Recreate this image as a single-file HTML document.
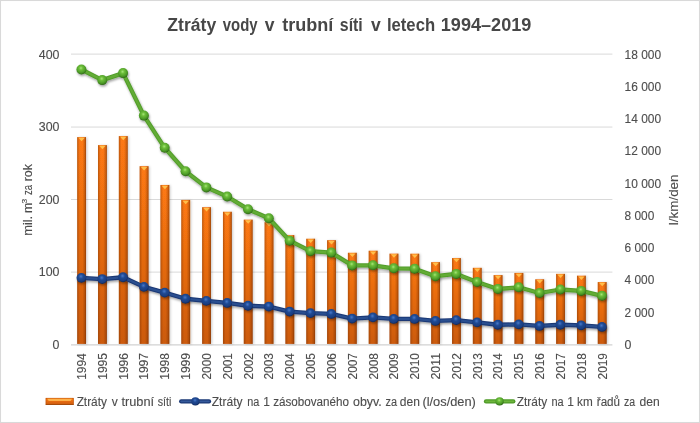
<!DOCTYPE html>
<html lang="cs"><head><meta charset="utf-8"><title>Ztráty vody v trubní síti v letech 1994–2019</title>
<style>
html,body{margin:0;padding:0;background:#fff;}
svg{display:block;font-family:"Liberation Sans",sans-serif;}
.ax{font-size:12px;fill:#4d4d4d;stroke:#4d4d4d;stroke-width:.12px;}
.ttl{font-size:17.5px;font-weight:bold;fill:#474747;}
</style></head><body>
<svg width="700" height="423" viewBox="0 0 700 423">
<defs>
<linearGradient id="gb" x1="0" y1="0" x2="0" y2="1"><stop offset="0" stop-color="#FD7912"/><stop offset="1" stop-color="#CB5A0F"/></linearGradient>
<linearGradient id="ge" x1="0" y1="0" x2="1" y2="0"><stop offset="0" stop-color="#6a2800" stop-opacity=".5"/><stop offset=".1" stop-color="#6a2800" stop-opacity=".25"/><stop offset=".3" stop-color="#6a2800" stop-opacity="0"/><stop offset=".6" stop-color="#6a2800" stop-opacity="0"/><stop offset=".86" stop-color="#6a2800" stop-opacity=".3"/><stop offset="1" stop-color="#5a2000" stop-opacity=".62"/></linearGradient>
<radialGradient id="mg" cx=".45" cy=".36" r=".62"><stop offset="0" stop-color="#A5E578"/><stop offset=".3" stop-color="#6DBE3A"/><stop offset=".7" stop-color="#4F9E29"/><stop offset=".88" stop-color="#3F8420"/><stop offset="1" stop-color="#2E6414"/></radialGradient>
<radialGradient id="mb" cx=".45" cy=".36" r=".62"><stop offset="0" stop-color="#4678CA"/><stop offset=".38" stop-color="#204A93"/><stop offset=".8" stop-color="#1A3D80"/><stop offset="1" stop-color="#102858"/></radialGradient>
<filter id="sh" x="-5%" y="-5%" width="110%" height="115%"><feDropShadow dx="0.8" dy="1.6" stdDeviation="1.2" flood-color="#000" flood-opacity=".38"/></filter>
<filter id="sb" x="-2%" y="-2%" width="104%" height="104%"><feDropShadow dx="1.2" dy="0.3" stdDeviation="0.8" flood-color="#000" flood-opacity=".2"/></filter>
</defs>
<rect x="0" y="0" width="700" height="423" fill="#fff"/>
<rect x="0.5" y="0.5" width="699" height="422" fill="none" stroke="#D9D9D9" stroke-width="1.1"/>

<line x1="71.0" x2="612.4" y1="272.10" y2="272.10" stroke="#D9D9D9" stroke-width="1"/>
<line x1="71.0" x2="612.4" y1="199.50" y2="199.50" stroke="#D9D9D9" stroke-width="1"/>
<line x1="71.0" x2="612.4" y1="127.05" y2="127.05" stroke="#D9D9D9" stroke-width="1"/>
<line x1="71.0" x2="612.4" y1="54.10" y2="54.10" stroke="#D9D9D9" stroke-width="1"/>
<line x1="71.0" x2="612.4" y1="344.9" y2="344.9" stroke="#D2D2D2" stroke-width="1.1"/>
<g filter="url(#sb)">
<rect x="77.21" y="137.12" width="8.8" height="206.78" fill="url(#gb)"/>
<rect x="98.03" y="145.12" width="8.8" height="198.78" fill="url(#gb)"/>
<rect x="118.86" y="136.11" width="8.8" height="207.79" fill="url(#gb)"/>
<rect x="139.68" y="166.20" width="8.8" height="177.70" fill="url(#gb)"/>
<rect x="160.50" y="184.96" width="8.8" height="158.94" fill="url(#gb)"/>
<rect x="181.33" y="199.94" width="8.8" height="143.96" fill="url(#gb)"/>
<rect x="202.15" y="207.21" width="8.8" height="136.69" fill="url(#gb)"/>
<rect x="222.97" y="211.79" width="8.8" height="132.11" fill="url(#gb)"/>
<rect x="243.80" y="219.64" width="8.8" height="124.26" fill="url(#gb)"/>
<rect x="264.62" y="222.26" width="8.8" height="121.64" fill="url(#gb)"/>
<rect x="285.44" y="235.12" width="8.8" height="108.78" fill="url(#gb)"/>
<rect x="306.27" y="238.76" width="8.8" height="105.14" fill="url(#gb)"/>
<rect x="327.09" y="240.21" width="8.8" height="103.69" fill="url(#gb)"/>
<rect x="347.91" y="252.79" width="8.8" height="91.11" fill="url(#gb)"/>
<rect x="368.73" y="250.75" width="8.8" height="93.15" fill="url(#gb)"/>
<rect x="389.56" y="253.66" width="8.8" height="90.24" fill="url(#gb)"/>
<rect x="410.38" y="253.73" width="8.8" height="90.17" fill="url(#gb)"/>
<rect x="431.20" y="262.17" width="8.8" height="81.73" fill="url(#gb)"/>
<rect x="452.03" y="258.10" width="8.8" height="85.80" fill="url(#gb)"/>
<rect x="472.85" y="267.84" width="8.8" height="76.06" fill="url(#gb)"/>
<rect x="493.67" y="275.11" width="8.8" height="68.79" fill="url(#gb)"/>
<rect x="514.50" y="272.93" width="8.8" height="70.97" fill="url(#gb)"/>
<rect x="535.32" y="279.32" width="8.8" height="64.58" fill="url(#gb)"/>
<rect x="556.14" y="273.87" width="8.8" height="70.03" fill="url(#gb)"/>
<rect x="576.97" y="275.69" width="8.8" height="68.21" fill="url(#gb)"/>
<rect x="597.79" y="282.09" width="8.8" height="61.81" fill="url(#gb)"/>
</g>
<rect x="77.21" y="137.12" width="8.8" height="206.78" fill="url(#ge)"/>
<polygon points="78.41,137.82 84.81,137.82 81.61,141.32" fill="#FFC44F" opacity=".92"/>
<rect x="98.03" y="145.12" width="8.8" height="198.78" fill="url(#ge)"/>
<polygon points="99.23,145.82 105.63,145.82 102.43,149.32" fill="#FFC44F" opacity=".92"/>
<rect x="118.86" y="136.11" width="8.8" height="207.79" fill="url(#ge)"/>
<polygon points="120.06,136.81 126.46,136.81 123.26,140.31" fill="#FFC44F" opacity=".92"/>
<rect x="139.68" y="166.20" width="8.8" height="177.70" fill="url(#ge)"/>
<polygon points="140.88,166.90 147.28,166.90 144.08,170.40" fill="#FFC44F" opacity=".92"/>
<rect x="160.50" y="184.96" width="8.8" height="158.94" fill="url(#ge)"/>
<polygon points="161.70,185.66 168.10,185.66 164.90,189.16" fill="#FFC44F" opacity=".92"/>
<rect x="181.33" y="199.94" width="8.8" height="143.96" fill="url(#ge)"/>
<polygon points="182.53,200.64 188.93,200.64 185.73,204.14" fill="#FFC44F" opacity=".92"/>
<rect x="202.15" y="207.21" width="8.8" height="136.69" fill="url(#ge)"/>
<polygon points="203.35,207.91 209.75,207.91 206.55,211.41" fill="#FFC44F" opacity=".92"/>
<rect x="222.97" y="211.79" width="8.8" height="132.11" fill="url(#ge)"/>
<polygon points="224.17,212.49 230.57,212.49 227.37,215.99" fill="#FFC44F" opacity=".92"/>
<rect x="243.80" y="219.64" width="8.8" height="124.26" fill="url(#ge)"/>
<polygon points="245.00,220.34 251.40,220.34 248.20,223.84" fill="#FFC44F" opacity=".92"/>
<rect x="264.62" y="222.26" width="8.8" height="121.64" fill="url(#ge)"/>
<polygon points="265.82,222.96 272.22,222.96 269.02,226.46" fill="#FFC44F" opacity=".92"/>
<rect x="285.44" y="235.12" width="8.8" height="108.78" fill="url(#ge)"/>
<polygon points="286.64,235.82 293.04,235.82 289.84,239.32" fill="#FFC44F" opacity=".92"/>
<rect x="306.27" y="238.76" width="8.8" height="105.14" fill="url(#ge)"/>
<polygon points="307.47,239.46 313.87,239.46 310.67,242.96" fill="#FFC44F" opacity=".92"/>
<rect x="327.09" y="240.21" width="8.8" height="103.69" fill="url(#ge)"/>
<polygon points="328.29,240.91 334.69,240.91 331.49,244.41" fill="#FFC44F" opacity=".92"/>
<rect x="347.91" y="252.79" width="8.8" height="91.11" fill="url(#ge)"/>
<polygon points="349.11,253.49 355.51,253.49 352.31,256.99" fill="#FFC44F" opacity=".92"/>
<rect x="368.73" y="250.75" width="8.8" height="93.15" fill="url(#ge)"/>
<polygon points="369.93,251.45 376.33,251.45 373.13,254.95" fill="#FFC44F" opacity=".92"/>
<rect x="389.56" y="253.66" width="8.8" height="90.24" fill="url(#ge)"/>
<polygon points="390.76,254.36 397.16,254.36 393.96,257.86" fill="#FFC44F" opacity=".92"/>
<rect x="410.38" y="253.73" width="8.8" height="90.17" fill="url(#ge)"/>
<polygon points="411.58,254.43 417.98,254.43 414.78,257.93" fill="#FFC44F" opacity=".92"/>
<rect x="431.20" y="262.17" width="8.8" height="81.73" fill="url(#ge)"/>
<polygon points="432.40,262.87 438.80,262.87 435.60,266.37" fill="#FFC44F" opacity=".92"/>
<rect x="452.03" y="258.10" width="8.8" height="85.80" fill="url(#ge)"/>
<polygon points="453.23,258.80 459.63,258.80 456.43,262.30" fill="#FFC44F" opacity=".92"/>
<rect x="472.85" y="267.84" width="8.8" height="76.06" fill="url(#ge)"/>
<polygon points="474.05,268.54 480.45,268.54 477.25,272.04" fill="#FFC44F" opacity=".92"/>
<rect x="493.67" y="275.11" width="8.8" height="68.79" fill="url(#ge)"/>
<polygon points="494.87,275.81 501.27,275.81 498.07,279.31" fill="#FFC44F" opacity=".92"/>
<rect x="514.50" y="272.93" width="8.8" height="70.97" fill="url(#ge)"/>
<polygon points="515.70,273.63 522.10,273.63 518.90,277.13" fill="#FFC44F" opacity=".92"/>
<rect x="535.32" y="279.32" width="8.8" height="64.58" fill="url(#ge)"/>
<polygon points="536.52,280.02 542.92,280.02 539.72,283.52" fill="#FFC44F" opacity=".92"/>
<rect x="556.14" y="273.87" width="8.8" height="70.03" fill="url(#ge)"/>
<polygon points="557.34,274.57 563.74,274.57 560.54,278.07" fill="#FFC44F" opacity=".92"/>
<rect x="576.97" y="275.69" width="8.8" height="68.21" fill="url(#ge)"/>
<polygon points="578.17,276.39 584.57,276.39 581.37,279.89" fill="#FFC44F" opacity=".92"/>
<rect x="597.79" y="282.09" width="8.8" height="61.81" fill="url(#ge)"/>
<polygon points="598.99,282.79 605.39,282.79 602.19,286.29" fill="#FFC44F" opacity=".92"/>
<g filter="url(#sh)">
<polyline points="81.41,277.85 102.23,279.05 123.06,277.25 143.88,286.85 164.70,292.65 185.53,298.75 206.35,300.85 227.17,302.95 248.00,305.75 268.82,306.55 289.64,311.55 310.47,313.15 331.29,313.95 352.11,318.55 372.93,317.35 393.76,318.95 414.58,318.95 435.40,320.95 456.23,320.15 477.05,322.35 497.87,324.75 518.70,324.35 539.52,325.95 560.34,324.75 581.17,325.35 601.99,326.95" fill="none" stroke="#1A3875" stroke-width="4.3" stroke-linejoin="round" stroke-linecap="round"/>
<polyline points="81.41,277.85 102.23,279.05 123.06,277.25 143.88,286.85 164.70,292.65 185.53,298.75 206.35,300.85 227.17,302.95 248.00,305.75 268.82,306.55 289.64,311.55 310.47,313.15 331.29,313.95 352.11,318.55 372.93,317.35 393.76,318.95 414.58,318.95 435.40,320.95 456.23,320.15 477.05,322.35 497.87,324.75 518.70,324.35 539.52,325.95 560.34,324.75 581.17,325.35 601.99,326.95" fill="none" stroke="#2B4F90" stroke-width="2.2" stroke-linejoin="round" stroke-linecap="round"/>
<circle cx="81.41" cy="277.85" r="4.9" fill="url(#mb)"/>
<circle cx="102.23" cy="279.05" r="4.9" fill="url(#mb)"/>
<circle cx="123.06" cy="277.25" r="4.9" fill="url(#mb)"/>
<circle cx="143.88" cy="286.85" r="4.9" fill="url(#mb)"/>
<circle cx="164.70" cy="292.65" r="4.9" fill="url(#mb)"/>
<circle cx="185.53" cy="298.75" r="4.9" fill="url(#mb)"/>
<circle cx="206.35" cy="300.85" r="4.9" fill="url(#mb)"/>
<circle cx="227.17" cy="302.95" r="4.9" fill="url(#mb)"/>
<circle cx="248.00" cy="305.75" r="4.9" fill="url(#mb)"/>
<circle cx="268.82" cy="306.55" r="4.9" fill="url(#mb)"/>
<circle cx="289.64" cy="311.55" r="4.9" fill="url(#mb)"/>
<circle cx="310.47" cy="313.15" r="4.9" fill="url(#mb)"/>
<circle cx="331.29" cy="313.95" r="4.9" fill="url(#mb)"/>
<circle cx="352.11" cy="318.55" r="4.9" fill="url(#mb)"/>
<circle cx="372.93" cy="317.35" r="4.9" fill="url(#mb)"/>
<circle cx="393.76" cy="318.95" r="4.9" fill="url(#mb)"/>
<circle cx="414.58" cy="318.95" r="4.9" fill="url(#mb)"/>
<circle cx="435.40" cy="320.95" r="4.9" fill="url(#mb)"/>
<circle cx="456.23" cy="320.15" r="4.9" fill="url(#mb)"/>
<circle cx="477.05" cy="322.35" r="4.9" fill="url(#mb)"/>
<circle cx="497.87" cy="324.75" r="4.9" fill="url(#mb)"/>
<circle cx="518.70" cy="324.35" r="4.9" fill="url(#mb)"/>
<circle cx="539.52" cy="325.95" r="4.9" fill="url(#mb)"/>
<circle cx="560.34" cy="324.75" r="4.9" fill="url(#mb)"/>
<circle cx="581.17" cy="325.35" r="4.9" fill="url(#mb)"/>
<circle cx="601.99" cy="326.95" r="4.9" fill="url(#mb)"/>
</g>
<g filter="url(#sh)">
<polyline points="81.41,69.50 102.23,80.10 123.06,73.10 143.88,115.60 164.70,147.80 185.53,171.20 206.35,187.40 227.17,196.50 248.00,209.20 268.82,218.30 289.64,240.70 310.47,251.20 331.29,252.60 352.11,265.40 372.93,265.30 393.76,268.30 414.58,268.70 435.40,276.20 456.23,273.90 477.05,282.00 497.87,289.00 518.70,287.30 539.52,293.00 560.34,289.50 581.17,290.90 601.99,295.80" fill="none" stroke="#539E2B" stroke-width="4.3" stroke-linejoin="round" stroke-linecap="round"/>
<polyline points="81.41,69.50 102.23,80.10 123.06,73.10 143.88,115.60 164.70,147.80 185.53,171.20 206.35,187.40 227.17,196.50 248.00,209.20 268.82,218.30 289.64,240.70 310.47,251.20 331.29,252.60 352.11,265.40 372.93,265.30 393.76,268.30 414.58,268.70 435.40,276.20 456.23,273.90 477.05,282.00 497.87,289.00 518.70,287.30 539.52,293.00 560.34,289.50 581.17,290.90 601.99,295.80" fill="none" stroke="#63AC36" stroke-width="2.2" stroke-linejoin="round" stroke-linecap="round"/>
<circle cx="81.41" cy="69.50" r="5.0" fill="url(#mg)"/>
<circle cx="102.23" cy="80.10" r="5.0" fill="url(#mg)"/>
<circle cx="123.06" cy="73.10" r="5.0" fill="url(#mg)"/>
<circle cx="143.88" cy="115.60" r="5.0" fill="url(#mg)"/>
<circle cx="164.70" cy="147.80" r="5.0" fill="url(#mg)"/>
<circle cx="185.53" cy="171.20" r="5.0" fill="url(#mg)"/>
<circle cx="206.35" cy="187.40" r="5.0" fill="url(#mg)"/>
<circle cx="227.17" cy="196.50" r="5.0" fill="url(#mg)"/>
<circle cx="248.00" cy="209.20" r="5.0" fill="url(#mg)"/>
<circle cx="268.82" cy="218.30" r="5.0" fill="url(#mg)"/>
<circle cx="289.64" cy="240.70" r="5.0" fill="url(#mg)"/>
<circle cx="310.47" cy="251.20" r="5.0" fill="url(#mg)"/>
<circle cx="331.29" cy="252.60" r="5.0" fill="url(#mg)"/>
<circle cx="352.11" cy="265.40" r="5.0" fill="url(#mg)"/>
<circle cx="372.93" cy="265.30" r="5.0" fill="url(#mg)"/>
<circle cx="393.76" cy="268.30" r="5.0" fill="url(#mg)"/>
<circle cx="414.58" cy="268.70" r="5.0" fill="url(#mg)"/>
<circle cx="435.40" cy="276.20" r="5.0" fill="url(#mg)"/>
<circle cx="456.23" cy="273.90" r="5.0" fill="url(#mg)"/>
<circle cx="477.05" cy="282.00" r="5.0" fill="url(#mg)"/>
<circle cx="497.87" cy="289.00" r="5.0" fill="url(#mg)"/>
<circle cx="518.70" cy="287.30" r="5.0" fill="url(#mg)"/>
<circle cx="539.52" cy="293.00" r="5.0" fill="url(#mg)"/>
<circle cx="560.34" cy="289.50" r="5.0" fill="url(#mg)"/>
<circle cx="581.17" cy="290.90" r="5.0" fill="url(#mg)"/>
<circle cx="601.99" cy="295.80" r="5.0" fill="url(#mg)"/>
</g>
<g>
<text class="ttl" x="167.27" y="30.6" textLength="48.93" lengthAdjust="spacingAndGlyphs">Ztráty</text>
<text class="ttl" x="222.76" y="30.6" textLength="34.84" lengthAdjust="spacingAndGlyphs">vody</text>
<text class="ttl" x="264.69" y="30.6" textLength="9.73" lengthAdjust="spacingAndGlyphs">v</text>
<text class="ttl" x="282.27" y="30.6" textLength="51.13" lengthAdjust="spacingAndGlyphs">trubní</text>
<text class="ttl" x="339.84" y="30.6" textLength="22.97" lengthAdjust="spacingAndGlyphs">síti</text>
<text class="ttl" x="370.94" y="30.6" textLength="9.73" lengthAdjust="spacingAndGlyphs">v</text>
<text class="ttl" x="386.93" y="30.6" textLength="48.17" lengthAdjust="spacingAndGlyphs">letech</text>
<text class="ttl" x="440.77" y="30.6" textLength="90.57" lengthAdjust="spacingAndGlyphs">1994–2019</text>
</g>
<text class="ax" x="59.45" y="348.90" text-anchor="end" textLength="6.90" lengthAdjust="spacingAndGlyphs">0</text>
<text class="ax" x="59.45" y="276.30" text-anchor="end" textLength="20.70" lengthAdjust="spacingAndGlyphs">100</text>
<text class="ax" x="59.45" y="203.70" text-anchor="end" textLength="20.70" lengthAdjust="spacingAndGlyphs">200</text>
<text class="ax" x="59.45" y="131.10" text-anchor="end" textLength="20.70" lengthAdjust="spacingAndGlyphs">300</text>
<text class="ax" x="59.45" y="58.50" text-anchor="end" textLength="20.70" lengthAdjust="spacingAndGlyphs">400</text>
<text class="ax" x="624.55" y="348.90" textLength="6.90" lengthAdjust="spacingAndGlyphs">0</text>
<text class="ax" x="624.55" y="316.64" textLength="29.70" lengthAdjust="spacingAndGlyphs">2 000</text>
<text class="ax" x="624.55" y="284.38" textLength="29.70" lengthAdjust="spacingAndGlyphs">4 000</text>
<text class="ax" x="624.55" y="252.12" textLength="29.70" lengthAdjust="spacingAndGlyphs">6 000</text>
<text class="ax" x="624.55" y="219.86" textLength="29.70" lengthAdjust="spacingAndGlyphs">8 000</text>
<text class="ax" x="624.55" y="187.60" textLength="36.50" lengthAdjust="spacingAndGlyphs">10 000</text>
<text class="ax" x="624.55" y="155.34" textLength="36.50" lengthAdjust="spacingAndGlyphs">12 000</text>
<text class="ax" x="624.55" y="123.08" textLength="36.50" lengthAdjust="spacingAndGlyphs">14 000</text>
<text class="ax" x="624.55" y="90.82" textLength="36.50" lengthAdjust="spacingAndGlyphs">16 000</text>
<text class="ax" x="624.55" y="58.56" textLength="36.50" lengthAdjust="spacingAndGlyphs">18 000</text>
<text class="ax" transform="translate(86.01,378.9) rotate(-90)" x="-0.90" textLength="26.55" lengthAdjust="spacingAndGlyphs">1994</text>
<text class="ax" transform="translate(106.83,378.9) rotate(-90)" x="-0.90" textLength="26.71" lengthAdjust="spacingAndGlyphs">1995</text>
<text class="ax" transform="translate(127.66,378.9) rotate(-90)" x="-0.90" textLength="26.74" lengthAdjust="spacingAndGlyphs">1996</text>
<text class="ax" transform="translate(148.48,378.9) rotate(-90)" x="-0.90" textLength="26.80" lengthAdjust="spacingAndGlyphs">1997</text>
<text class="ax" transform="translate(169.30,378.9) rotate(-90)" x="-0.90" textLength="26.74" lengthAdjust="spacingAndGlyphs">1998</text>
<text class="ax" transform="translate(190.13,378.9) rotate(-90)" x="-0.90" textLength="26.77" lengthAdjust="spacingAndGlyphs">1999</text>
<text class="ax" transform="translate(210.95,378.9) rotate(-90)" x="-0.59" textLength="26.36" lengthAdjust="spacingAndGlyphs">2000</text>
<text class="ax" transform="translate(231.77,378.9) rotate(-90)" x="-0.60" textLength="26.49" lengthAdjust="spacingAndGlyphs">2001</text>
<text class="ax" transform="translate(252.60,378.9) rotate(-90)" x="-0.60" textLength="26.49" lengthAdjust="spacingAndGlyphs">2002</text>
<text class="ax" transform="translate(273.42,378.9) rotate(-90)" x="-0.59" textLength="26.42" lengthAdjust="spacingAndGlyphs">2003</text>
<text class="ax" transform="translate(294.24,378.9) rotate(-90)" x="-0.59" textLength="26.24" lengthAdjust="spacingAndGlyphs">2004</text>
<text class="ax" transform="translate(315.07,378.9) rotate(-90)" x="-0.59" textLength="26.39" lengthAdjust="spacingAndGlyphs">2005</text>
<text class="ax" transform="translate(335.89,378.9) rotate(-90)" x="-0.59" textLength="26.42" lengthAdjust="spacingAndGlyphs">2006</text>
<text class="ax" transform="translate(356.71,378.9) rotate(-90)" x="-0.60" textLength="26.49" lengthAdjust="spacingAndGlyphs">2007</text>
<text class="ax" transform="translate(377.53,378.9) rotate(-90)" x="-0.59" textLength="26.42" lengthAdjust="spacingAndGlyphs">2008</text>
<text class="ax" transform="translate(398.36,378.9) rotate(-90)" x="-0.59" textLength="26.46" lengthAdjust="spacingAndGlyphs">2009</text>
<text class="ax" transform="translate(419.18,378.9) rotate(-90)" x="-0.59" textLength="26.36" lengthAdjust="spacingAndGlyphs">2010</text>
<text class="ax" transform="translate(440.00,378.9) rotate(-90)" x="-0.62" textLength="26.51" lengthAdjust="spacingAndGlyphs">2011</text>
<text class="ax" transform="translate(460.83,378.9) rotate(-90)" x="-0.60" textLength="26.49" lengthAdjust="spacingAndGlyphs">2012</text>
<text class="ax" transform="translate(481.65,378.9) rotate(-90)" x="-0.59" textLength="26.42" lengthAdjust="spacingAndGlyphs">2013</text>
<text class="ax" transform="translate(502.47,378.9) rotate(-90)" x="-0.59" textLength="26.24" lengthAdjust="spacingAndGlyphs">2014</text>
<text class="ax" transform="translate(523.30,378.9) rotate(-90)" x="-0.59" textLength="26.39" lengthAdjust="spacingAndGlyphs">2015</text>
<text class="ax" transform="translate(544.12,378.9) rotate(-90)" x="-0.59" textLength="26.42" lengthAdjust="spacingAndGlyphs">2016</text>
<text class="ax" transform="translate(564.94,378.9) rotate(-90)" x="-0.60" textLength="26.49" lengthAdjust="spacingAndGlyphs">2017</text>
<text class="ax" transform="translate(585.77,378.9) rotate(-90)" x="-0.59" textLength="26.42" lengthAdjust="spacingAndGlyphs">2018</text>
<text class="ax" transform="translate(606.59,378.9) rotate(-90)" x="-0.59" textLength="26.46" lengthAdjust="spacingAndGlyphs">2019</text>
<g transform="translate(32.0,235) rotate(-90)">
<text class="ax" x="-0.84" y="0" textLength="20.00" lengthAdjust="spacingAndGlyphs">mil.</text>
<text class="ax" x="22.00" y="0" textLength="10.20" lengthAdjust="spacingAndGlyphs">m</text>
<text class="ax" x="31.58" y="-4.9" style="font-size:8px" textLength="4.68" lengthAdjust="spacingAndGlyphs">3</text>
<text class="ax" x="40.02" y="0" textLength="10.07" lengthAdjust="spacingAndGlyphs">za</text>
<text class="ax" x="53.69" y="0" textLength="17.30" lengthAdjust="spacingAndGlyphs">rok</text>
</g>
<g transform="translate(678.0,224.3) rotate(-90)">
<text class="ax" x="-0.91" y="0" textLength="50.77" lengthAdjust="spacingAndGlyphs">l/km/den</text>
</g>
<rect x="45.8" y="398" width="27.8" height="6.9" fill="url(#gb)"/>
<rect x="46" y="398.2" width="27.4" height="6.5" fill="none" stroke="#B5520C" stroke-width=".6"/>
<polygon points="47.2,398.8 72.1,398.8 70.6,400.9 48.7,400.9" fill="#FFB850" opacity=".9"/>
<line x1="45.9" x2="73.4" y1="404.5" y2="404.5" stroke="#A04608" stroke-width=".8"/>
<g>
<text class="ax" x="76.64" y="405.85" textLength="30.29" lengthAdjust="spacingAndGlyphs">Ztráty</text>
<text class="ax" x="111.65" y="405.85" textLength="6.00" lengthAdjust="spacingAndGlyphs">v</text>
<text class="ax" x="121.41" y="405.85" textLength="32.65" lengthAdjust="spacingAndGlyphs">trubní</text>
<text class="ax" x="157.81" y="405.85" textLength="13.62" lengthAdjust="spacingAndGlyphs">síti</text>
</g>
<g><line x1="181.2" x2="209" y1="401.4" y2="401.4" stroke="#1A3875" stroke-width="4.3" stroke-linecap="round"/><line x1="181.2" x2="209" y1="401.4" y2="401.4" stroke="#35599A" stroke-width="1.6" stroke-linecap="round"/><circle cx="195.4" cy="401.4" r="4.1" fill="url(#mb)"/></g>
<g>
<text class="ax" x="211.74" y="405.85" textLength="30.80" lengthAdjust="spacingAndGlyphs">Ztráty</text>
<text class="ax" x="247.19" y="405.85" textLength="12.11" lengthAdjust="spacingAndGlyphs">na</text>
<text class="ax" x="263.16" y="405.85" textLength="6.67" lengthAdjust="spacingAndGlyphs">1</text>
<text class="ax" x="273.13" y="405.85" textLength="75.94" lengthAdjust="spacingAndGlyphs">zásobovaného</text>
<text class="ax" x="353.07" y="405.85" textLength="28.76" lengthAdjust="spacingAndGlyphs">obyv.</text>
<text class="ax" x="385.56" y="405.85" textLength="11.52" lengthAdjust="spacingAndGlyphs">za</text>
<text class="ax" x="399.79" y="405.85" textLength="20.08" lengthAdjust="spacingAndGlyphs">den</text>
<text class="ax" x="422.40" y="405.85" textLength="53.49" lengthAdjust="spacingAndGlyphs">(l/os/den)</text>
</g>
<g><line x1="486" x2="513.3" y1="401.4" y2="401.4" stroke="#4F9A29" stroke-width="4.3" stroke-linecap="round"/><line x1="486" x2="513.3" y1="401.4" y2="401.4" stroke="#6DB53C" stroke-width="1.6" stroke-linecap="round"/><circle cx="499.6" cy="401.4" r="4.1" fill="url(#mg)"/></g>
<g>
<text class="ax" x="516.74" y="405.85" textLength="30.40" lengthAdjust="spacingAndGlyphs">Ztráty</text>
<text class="ax" x="551.39" y="405.85" textLength="12.21" lengthAdjust="spacingAndGlyphs">na</text>
<text class="ax" x="567.36" y="405.85" textLength="6.67" lengthAdjust="spacingAndGlyphs">1</text>
<text class="ax" x="577.11" y="405.85" textLength="15.66" lengthAdjust="spacingAndGlyphs">km</text>
<text class="ax" x="596.78" y="405.85" textLength="23.29" lengthAdjust="spacingAndGlyphs">řadů</text>
<text class="ax" x="623.88" y="405.85" textLength="11.11" lengthAdjust="spacingAndGlyphs">za</text>
<text class="ax" x="639.49" y="405.85" textLength="20.18" lengthAdjust="spacingAndGlyphs">den</text>
</g>
</svg></body></html>
